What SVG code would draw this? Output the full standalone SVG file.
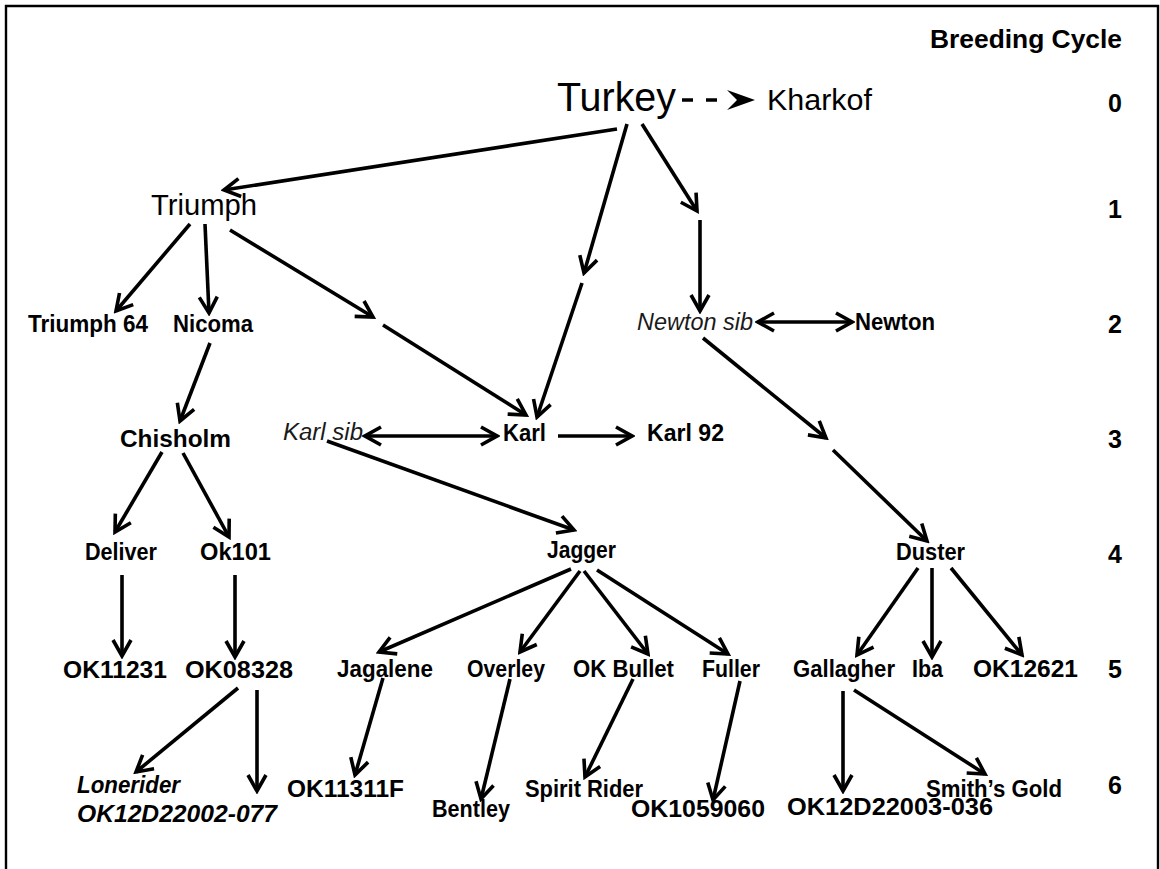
<svg xmlns="http://www.w3.org/2000/svg" width="1160" height="869" viewBox="0 0 1160 869">
<defs>
<style>
text{font-family:"Liberation Sans",Arial,sans-serif;fill:#000}
.n{font-size:23px;font-weight:bold}
.r{font-weight:normal}
.it{font-style:italic;font-weight:normal;fill:#1a1a1a}
.ib{font-style:italic;font-weight:bold}
.cy{font-size:25px;font-weight:bold;text-anchor:end}
.c line,.c path{stroke:#000;stroke-width:3.6;fill:none}
</style>
<marker id="ah" viewBox="0 0 22 22" refX="19" refY="11" markerWidth="22" markerHeight="22" markerUnits="userSpaceOnUse" orient="auto-start-reverse">
<path d="M3 2 L19 11 L3 20" fill="none" stroke="#000" stroke-width="3.6" stroke-linejoin="miter"/>
</marker>
</defs>
<rect width="1160" height="869" fill="#fff"/>
<path d="M6 869 V6 H1158 V869" fill="none" stroke="#000" stroke-width="2.4"/>

<g id="header">
<text x="930" y="48" font-size="26" font-weight="bold" textLength="192" lengthAdjust="spacingAndGlyphs">Breeding Cycle</text>
<text class="cy" x="1122" y="112">0</text>
<text class="cy" x="1122" y="218">1</text>
<text class="cy" x="1122" y="333">2</text>
<text class="cy" x="1122" y="448">3</text>
<text class="cy" x="1122" y="563">4</text>
<text class="cy" x="1122" y="678">5</text>
<text class="cy" x="1122" y="794">6</text>
</g>

<g class="c" id="connectors">
<line x1="682" y1="100" x2="722" y2="100" stroke-dasharray="11 13"/>
<polygon points="727,90 755,100 727,110 737,100" fill="#000"/>
<line x1="617" y1="129" x2="224" y2="190" marker-end="url(#ah)"/>
<line x1="627" y1="124" x2="584" y2="273" marker-end="url(#ah)"/>
<line x1="582" y1="283" x2="537" y2="417" marker-end="url(#ah)"/>
<line x1="642" y1="124" x2="697" y2="211" marker-end="url(#ah)"/>
<line x1="700" y1="220" x2="700" y2="311" marker-end="url(#ah)"/>
<line x1="190" y1="224" x2="116" y2="311" marker-end="url(#ah)"/>
<line x1="205" y1="224" x2="209" y2="313" marker-end="url(#ah)"/>
<line x1="230" y1="230" x2="373" y2="317" marker-end="url(#ah)"/>
<line x1="383" y1="325" x2="526" y2="415" marker-end="url(#ah)"/>
<line x1="758" y1="322" x2="852" y2="322" marker-start="url(#ah)" marker-end="url(#ah)"/>
<line x1="210" y1="343" x2="180" y2="421" marker-end="url(#ah)"/>
<line x1="703" y1="338" x2="826" y2="438" marker-end="url(#ah)"/>
<line x1="833" y1="450" x2="927" y2="541" marker-end="url(#ah)"/>
<line x1="365" y1="436" x2="497" y2="436" marker-start="url(#ah)" marker-end="url(#ah)"/>
<line x1="558" y1="436" x2="632" y2="436" marker-end="url(#ah)"/>
<line x1="327" y1="441" x2="574" y2="530" marker-end="url(#ah)"/>
<line x1="162" y1="452" x2="115" y2="532" marker-end="url(#ah)"/>
<line x1="183" y1="453" x2="229" y2="537" marker-end="url(#ah)"/>
<line x1="122" y1="575" x2="122" y2="656" marker-end="url(#ah)"/>
<line x1="235" y1="575" x2="235" y2="657" marker-end="url(#ah)"/>
<line x1="571" y1="569" x2="379" y2="652" marker-end="url(#ah)"/>
<line x1="580" y1="571" x2="520" y2="652" marker-end="url(#ah)"/>
<line x1="584" y1="571" x2="648" y2="654" marker-end="url(#ah)"/>
<line x1="597" y1="570" x2="728" y2="654" marker-end="url(#ah)"/>
<line x1="918" y1="568" x2="857" y2="655" marker-end="url(#ah)"/>
<line x1="932" y1="568" x2="932" y2="657" marker-end="url(#ah)"/>
<line x1="951" y1="568" x2="1022" y2="655" marker-end="url(#ah)"/>
<line x1="238" y1="688" x2="136" y2="772" marker-end="url(#ah)"/>
<line x1="257" y1="690" x2="257" y2="791" marker-end="url(#ah)"/>
<line x1="383" y1="678" x2="355" y2="775" marker-end="url(#ah)"/>
<line x1="510" y1="679" x2="481" y2="799" marker-end="url(#ah)"/>
<line x1="633" y1="679" x2="585" y2="777" marker-end="url(#ah)"/>
<line x1="740" y1="681" x2="713" y2="800" marker-end="url(#ah)"/>
<line x1="843" y1="691" x2="843" y2="791" marker-end="url(#ah)"/>
<line x1="854" y1="690" x2="985" y2="774" marker-end="url(#ah)"/>
</g>

<g id="turkey"><text class="r" x="557" y="111" font-size="41" textLength="119" lengthAdjust="spacingAndGlyphs">Turkey</text></g>
<g id="kharkof"><text class="r" x="767" y="110" font-size="29" textLength="105" lengthAdjust="spacingAndGlyphs">Kharkof</text></g>
<g id="triumph"><text class="r" x="151" y="215" font-size="29" textLength="106" lengthAdjust="spacingAndGlyphs">Triumph</text></g>

<g id="triumph64"><text class="n" x="28" y="332" textLength="120" lengthAdjust="spacingAndGlyphs">Triumph 64</text></g>
<g id="nicoma"><text class="n" x="173" y="332" textLength="80" lengthAdjust="spacingAndGlyphs">Nicoma</text></g>
<g id="newtonsib"><text class="n it" x="637" y="330" textLength="116" lengthAdjust="spacingAndGlyphs">Newton sib</text></g>
<g id="newton"><text class="n" x="855" y="330" textLength="80" lengthAdjust="spacingAndGlyphs">Newton</text></g>

<g id="chisholm"><text class="n" x="120" y="447" font-size="25" textLength="111" lengthAdjust="spacingAndGlyphs">Chisholm</text></g>
<g id="karlsib"><text class="n it" x="283" y="440" textLength="80" lengthAdjust="spacingAndGlyphs">Karl sib</text></g>
<g id="karl"><text class="n" x="503" y="441" textLength="43" lengthAdjust="spacingAndGlyphs">Karl</text></g>
<g id="karl92"><text class="n" x="647" y="441" textLength="77" lengthAdjust="spacingAndGlyphs">Karl 92</text></g>

<g id="deliver"><text class="n" x="85" y="560" font-size="22" textLength="72" lengthAdjust="spacingAndGlyphs">Deliver</text></g>
<g id="ok101"><text class="n" x="200" y="560" font-size="22" textLength="71" lengthAdjust="spacingAndGlyphs">Ok101</text></g>
<g id="jagger"><text class="n" x="547" y="558" font-size="22" textLength="69" lengthAdjust="spacingAndGlyphs">Jagger</text></g>
<g id="duster"><text class="n" x="896" y="560" font-size="22" textLength="69" lengthAdjust="spacingAndGlyphs">Duster</text></g>

<g id="ok11231"><text class="n" x="63" y="678" textLength="104" lengthAdjust="spacingAndGlyphs">OK11231</text></g>
<g id="ok08328"><text class="n" x="185" y="678" textLength="108" lengthAdjust="spacingAndGlyphs">OK08328</text></g>
<g id="jagalene"><text class="n" x="337" y="677" textLength="96" lengthAdjust="spacingAndGlyphs">Jagalene</text></g>
<g id="overley"><text class="n" x="467" y="677" textLength="78" lengthAdjust="spacingAndGlyphs">Overley</text></g>
<g id="okbullet"><text class="n" x="573" y="677" textLength="101" lengthAdjust="spacingAndGlyphs">OK Bullet</text></g>
<g id="fuller"><text class="n" x="702" y="677" textLength="58" lengthAdjust="spacingAndGlyphs">Fuller</text></g>
<g id="gallagher"><text class="n" x="793" y="677" textLength="102" lengthAdjust="spacingAndGlyphs">Gallagher</text></g>
<g id="iba"><text class="n" x="912" y="677" textLength="31" lengthAdjust="spacingAndGlyphs">Iba</text></g>
<g id="ok12621"><text class="n" x="973" y="677" textLength="105" lengthAdjust="spacingAndGlyphs">OK12621</text></g>

<g id="lonerider">
<text class="n ib" x="77" y="793" textLength="103" lengthAdjust="spacingAndGlyphs">Lonerider</text>
<text class="n ib" x="77" y="822" textLength="200" lengthAdjust="spacingAndGlyphs">OK12D22002-077</text>
</g>
<g id="ok11311f"><text class="n" x="287" y="797" textLength="117" lengthAdjust="spacingAndGlyphs">OK11311F</text></g>
<g id="bentley"><text class="n" x="432" y="817" textLength="78" lengthAdjust="spacingAndGlyphs">Bentley</text></g>
<g id="spiritrider"><text class="n" x="525" y="797" textLength="118" lengthAdjust="spacingAndGlyphs">Spirit Rider</text></g>
<g id="ok1059060"><text class="n" x="631" y="817" textLength="134" lengthAdjust="spacingAndGlyphs">OK1059060</text></g>
<g id="ok12d22003"><text class="n" x="787" y="815" textLength="206" lengthAdjust="spacingAndGlyphs">OK12D22003-036</text></g>
<g id="smithsgold"><text class="n" x="926" y="797" textLength="136" lengthAdjust="spacingAndGlyphs">Smith’s Gold</text></g>
</svg>
